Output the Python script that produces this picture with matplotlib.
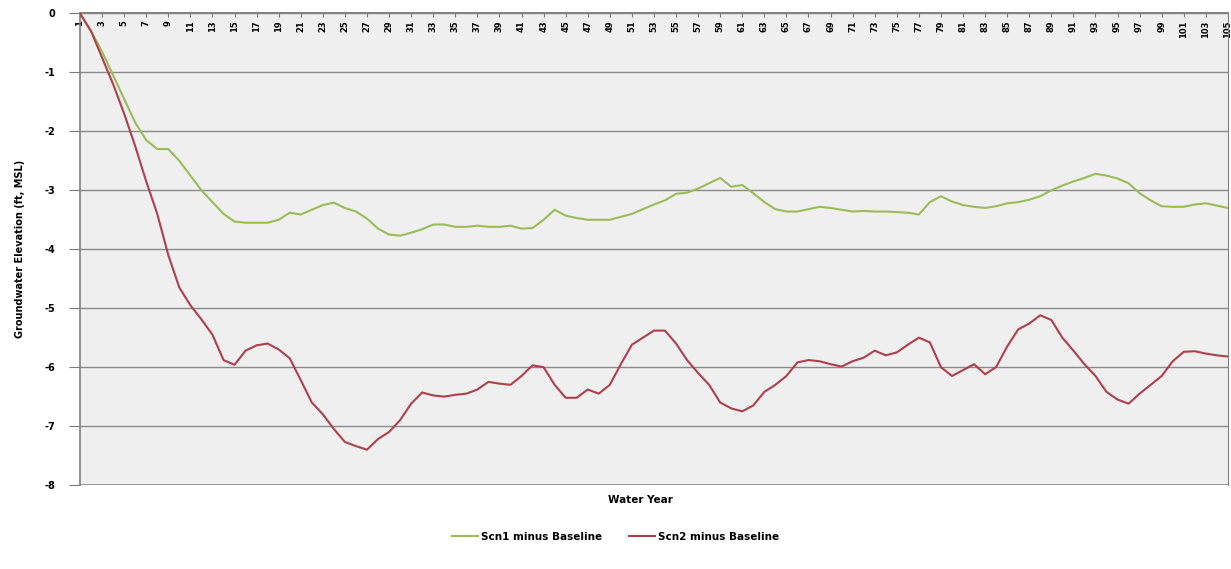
import matplotlib
matplotlib.use("Agg")
import matplotlib.pyplot as plt
import numpy as np

years = list(range(1, 106))

scn1_minus_baseline = [
    0.0, -0.3, -0.65, -1.05, -1.45, -1.85, -2.15, -2.3, -2.3, -2.5,
    -2.75, -3.0, -3.2, -3.4, -3.53, -3.55, -3.55, -3.55, -3.5, -3.38,
    -3.41, -3.33, -3.25, -3.21, -3.3, -3.36, -3.48, -3.65, -3.75, -3.77,
    -3.72, -3.66, -3.58, -3.58, -3.62, -3.62, -3.6, -3.62, -3.62, -3.6,
    -3.65, -3.64, -3.5, -3.33, -3.43, -3.47, -3.5, -3.5, -3.5, -3.45,
    -3.4, -3.32, -3.24, -3.17, -3.06, -3.04, -2.97, -2.88, -2.79, -2.94,
    -2.91, -3.05, -3.2, -3.32, -3.36, -3.36, -3.32, -3.28, -3.3, -3.33,
    -3.36, -3.35, -3.36, -3.36, -3.37, -3.38, -3.41, -3.2, -3.1, -3.19,
    -3.25, -3.28, -3.3, -3.27, -3.22, -3.2, -3.16, -3.1, -3.0, -2.92,
    -2.85, -2.79, -2.72, -2.75, -2.8, -2.88, -3.05, -3.17, -3.27, -3.28,
    -3.28, -3.24, -3.22, -3.26, -3.3,
]

scn2_minus_baseline = [
    0.0, -0.3, -0.75, -1.2, -1.7, -2.25, -2.85, -3.4, -4.1, -4.65,
    -4.95, -5.19, -5.45, -5.88, -5.96, -5.72, -5.63, -5.6, -5.7, -5.85,
    -6.22, -6.6, -6.8, -7.05, -7.27, -7.34, -7.4, -7.22, -7.1, -6.9,
    -6.62, -6.43, -6.48, -6.5, -6.47, -6.45, -6.38, -6.25, -6.28, -6.3,
    -6.15, -5.97, -6.0, -6.3, -6.52, -6.52, -6.38, -6.45, -6.3, -5.95,
    -5.62, -5.5, -5.38, -5.38, -5.6, -5.88, -6.1, -6.3, -6.6, -6.7,
    -6.75, -6.65, -6.42, -6.3, -6.15, -5.92, -5.88, -5.9, -5.95, -5.99,
    -5.9, -5.84, -5.72, -5.8, -5.75, -5.62, -5.5, -5.58, -6.0, -6.15,
    -6.05, -5.95, -6.12, -6.0, -5.65, -5.36, -5.26, -5.12, -5.2, -5.5,
    -5.72, -5.95, -6.15, -6.42, -6.55, -6.62, -6.45, -6.3, -6.15, -5.9,
    -5.74, -5.73, -5.77, -5.8, -5.82,
]

x_tick_labels = [str(v) for v in range(1, 106, 2)]
y_ticks = [0, -1, -2, -3, -4, -5, -6, -7, -8]

fig = plt.figure(figsize=(12.31, 5.69), dpi=100)
ax = fig.add_axes([0.065, 0.1476, 0.9325, 0.8287])
ax.set_facecolor("#efefef")

ax.plot(years, scn1_minus_baseline, color="#9BBB59", lw=1.5, label="Scn1 minus Baseline", zorder=3)
ax.plot(years, scn2_minus_baseline, color="#B03F4C", lw=1.5, label="Scn2 minus Baseline", zorder=3)

ax.set_xlim(1, 105)
ax.set_ylim(-8, 0)
ax.set_yticks(y_ticks)
ax.set_yticklabels([str(v) for v in y_ticks], fontsize=7, fontweight="bold")
ax.grid(axis="y", color="#8a8a8a", lw=1.0, zorder=1)
ax.grid(axis="x", visible=False)

ax.spines["bottom"].set_position(("data", 0))
ax.tick_params(axis="x", direction="out", length=3, pad=2, color="#777777", labelrotation=90)
ax.tick_params(axis="y", direction="out", length=8, pad=10, color="#777777")
ax.set_xticks(list(range(1, 106, 2)))
ax.set_xticklabels(x_tick_labels, fontsize=6, fontweight="bold")
for lbl in ax.get_xticklabels():
    lbl.set_rotation(90)
    lbl.set_va("top")
    lbl.set_ha("center")

for side in ["left", "bottom", "top", "right"]:
    ax.spines[side].set_color("#808080")
    ax.spines[side].set_linewidth(1.2)
ax.spines["right"].set_linewidth(0.8)
ax.axhline(-8, color="#8a8a8a", lw=1.2, zorder=2)

ax.set_ylabel("Groundwater Elevation (ft, MSL)", fontsize=7, fontweight="bold", labelpad=14)
fig.text(0.52, 0.13, "Water Year", ha="center", va="top", fontsize=7.5, fontweight="bold")

leg = fig.legend(loc="center", bbox_to_anchor=(0.5, 0.056), ncol=2, frameon=False,
                 fontsize=7.5, handlelength=2.5, columnspacing=2.5, handletextpad=0.3)
for t in leg.get_texts():
    t.set_fontweight("bold")

fig.savefig("out.png", dpi=100)
